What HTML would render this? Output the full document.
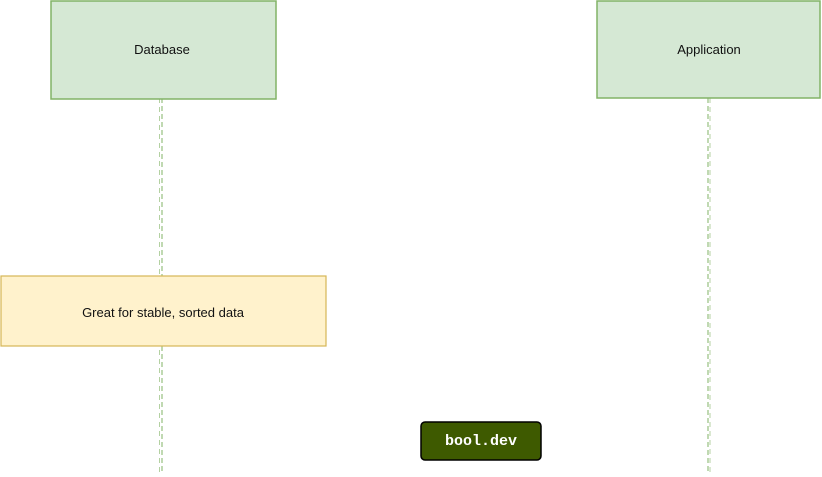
<!DOCTYPE html>
<html><head><style>
html,body{margin:0;padding:0;background:#fff;width:822px;height:477px;overflow:hidden}
</style></head><body>
<svg width="822" height="477" xmlns="http://www.w3.org/2000/svg" font-family="'Liberation Sans',sans-serif">
<line x1="162" y1="98" x2="162" y2="472" stroke="#82b366" stroke-dasharray="5 3" stroke-width="1"/>
<line x1="159.5" y1="98" x2="159.5" y2="472" stroke="#82b366" stroke-dasharray="5 4" stroke-width="0.6"/>
<line x1="708" y1="98" x2="708" y2="472" stroke="#82b366" stroke-dasharray="5 3" stroke-width="1"/>
<line x1="710" y1="98" x2="710" y2="472" stroke="#82b366" stroke-dasharray="5 4" stroke-width="0.6"/>
<rect x="51" y="1" width="225" height="98" fill="#d5e8d4" stroke="#82b366" stroke-width="1.5"/>
<text x="162" y="54" text-anchor="middle" font-size="13" fill="#111">Database</text>
<rect x="597" y="1" width="223" height="97" fill="#d5e8d4" stroke="#82b366" stroke-width="1.5"/>
<text x="709" y="54" text-anchor="middle" font-size="13" fill="#111">Application</text>
<rect x="1" y="276" width="325" height="70" fill="#fff2cc" stroke="#d6b656" stroke-width="1.2"/>
<text x="163" y="317" text-anchor="middle" font-size="13" fill="#111">Great for stable, sorted data</text>
<rect x="421" y="422" width="120" height="38" rx="4" fill="#3e5a00" stroke="#000" stroke-width="1.5"/>
<text x="481" y="445" text-anchor="middle" font-size="15" font-weight="bold" font-family="'Liberation Mono',monospace" fill="#fff">bool.dev</text>
</svg>
</body></html>
